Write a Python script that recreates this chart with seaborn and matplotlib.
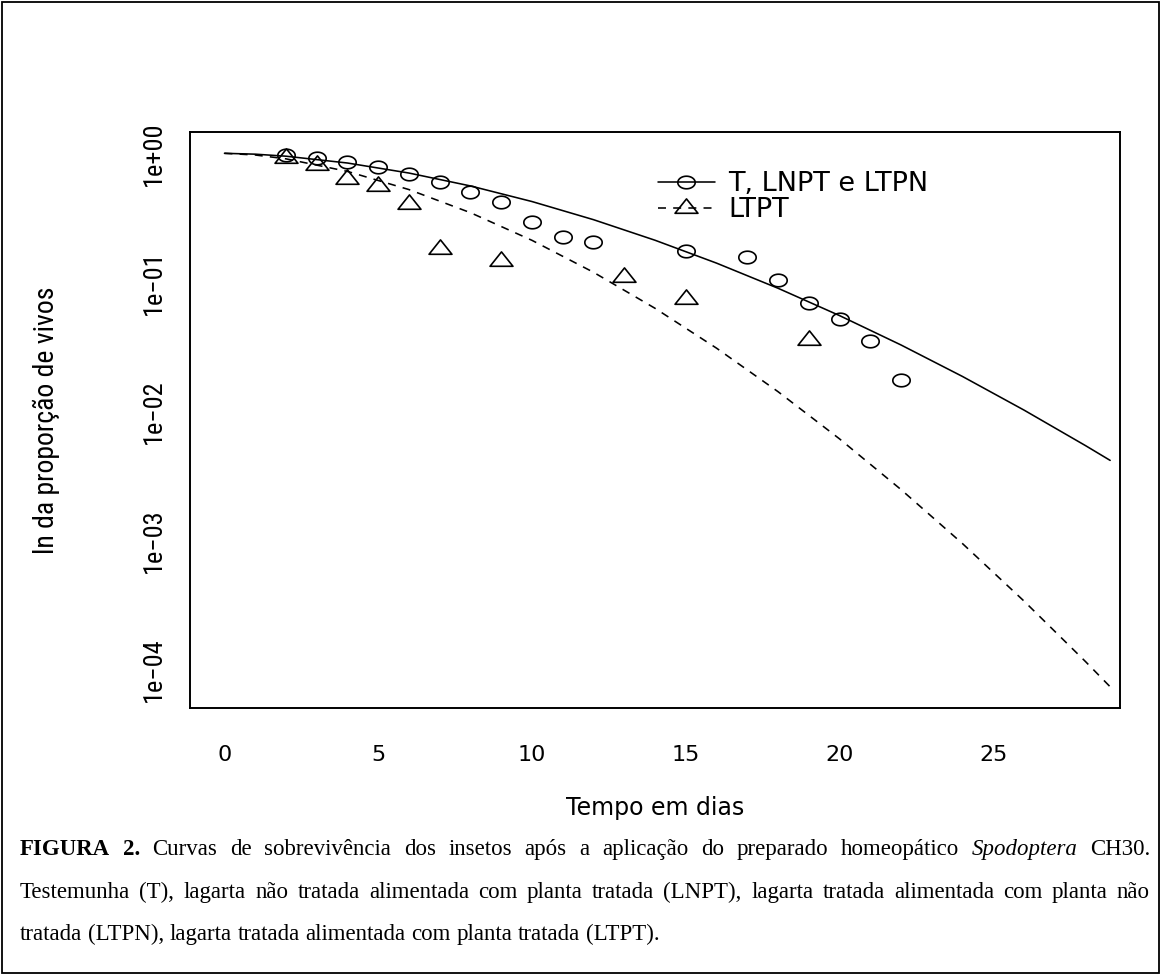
import numpy as np
import pandas as pd
import seaborn as sns
import matplotlib
matplotlib.use("Agg")
import matplotlib.pyplot as plt
import matplotlib.font_manager as fm
from matplotlib.path import Path
from matplotlib.lines import Line2D
from matplotlib.patches import Rectangle
from matplotlib.ticker import NullLocator

# pontos observados (proporcao de vivos)
dias_t = [2, 3, 4, 5, 6, 7, 8, 9, 10, 11, 12, 15, 17, 18, 19, 20, 21, 22]
prop_t = [0.965, 0.925, 0.857, 0.778, 0.695, 0.603, 0.501, 0.417, 0.294, 0.225,
          0.207, 0.174, 0.157, 0.104, 0.069, 0.052, 0.035, 0.0176]
dias_ltpt = [2, 3, 4, 5, 6, 7, 9, 13, 15, 19]
prop_ltpt = [0.915, 0.813, 0.629, 0.559, 0.403, 0.182, 0.147, 0.110, 0.074, 0.036]

# curvas ajustadas
dias_curva = [0, 1, 2, 4, 6, 8, 10, 12, 14, 16, 18, 20, 22, 24, 26, 28, 28.8]
curva_t = [1.0, 0.9848, 0.9499, 0.8411, 0.7034, 0.5589, 0.4232, 0.3063, 0.2123, 0.1412,
           0.0902, 0.0554, 0.0328, 0.0187, 0.01027, 0.00545, 0.00419]
curva_ltpt = [1.0, 0.9705, 0.9063, 0.7242, 0.5238, 0.3469, 0.2119, 0.1199, 0.0631, 0.0310,
              0.01427, 0.00615, 0.00249, 0.000950, 0.000341, 0.0001159, 0.0000740]

y_ticks = [1e-4, 1e-3, 1e-2, 1e-1, 1e0]
y_labels = ["1e\u221204", "1e\u221203", "1e\u221202", "1e\u221201", "1e+00"]
x_ticks = [0, 5, 10, 15, 20, 25]

legenda = ["T, LNPT e LTPN", "LTPT"]
caption = [
    [("FIGURA", "b"), ("2.", "b"), ("Curvas", ""), ("de", ""), ("sobrevivência", ""),
     ("dos", ""), ("insetos", ""), ("após", ""), ("a", ""), ("aplicação", ""), ("do", ""),
     ("preparado", ""), ("homeopático", ""), ("Spodoptera", "i"), ("CH30.", "")],
    [(w, "") for w in "Testemunha (T), lagarta não tratada alimentada com planta tratada "
     "(LNPT), lagarta tratada alimentada com planta não".split()],
    [(w, "") for w in "tratada (LTPN), lagarta tratada alimentada com planta tratada (LTPT).".split()],
]

W, H = 1163, 976
STRETCH = 1.38  # o grafico original foi esticado na horizontal


def fonte_estreita():
    # procura uma familia condensada instalada para os textos na vertical
    nomes = {f.name for f in fm.fontManager.ttflist}
    for nome in ["Liberation Sans Narrow", "Roboto Condensed", "DejaVu Sans Condensed",
                 "Open Sans Condensed", "Noto Sans Condensed", "Arial Narrow"]:
        if nome in nomes:
            return {"family": nome}
    for f in fm.fontManager.ttflist:
        if f.stretch in ("condensed", "semi-condensed") and "mono" not in f.name.lower():
            return {"family": f.name, "fontstretch": f.stretch}
    for f in fm.fontManager.ttflist:
        if "narrow" in f.name.lower() or "condensed" in f.name.lower():
            return {"family": f.name}
    return {"family": "Liberation Sans"}


def set_config():
    sns.set_theme(style="white")
    plt.rcParams["font.family"] = ["DejaVu Sans"]
    plt.rcParams["axes.linewidth"] = 1.4
    plt.rcParams["axes.edgecolor"] = "black"
    for k in ["text.color", "axes.labelcolor", "xtick.color", "ytick.color"]:
        plt.rcParams[k] = "black"
    return fonte_estreita()


def marcador_elipse():
    th = np.linspace(0, 2 * np.pi, 60)
    verts = np.column_stack([STRETCH * np.cos(th), np.sin(th)])
    return Path(verts, closed=True)


def marcador_triangulo():
    r0, r1, r2 = 1.555, 1.347, 0.778
    verts = [(0, r0), (r1 * STRETCH, -r2), (-r1 * STRETCH, -r2), (0, r0)]
    return Path(verts, closed=True)


def largura(fig, texto, size, **kw):
    r = fig.canvas.get_renderer()
    t = fig.text(0, 0, texto, fontsize=size, family="Liberation Serif", **kw)
    w = t.get_window_extent(r).width
    t.remove()
    return w


def linha_caption(fig, palavras, y, x0, x1, size, justificar):
    r = fig.canvas.get_renderer()
    textos = []
    for w, st in palavras:
        t = fig.text(0, y, w, fontsize=size, family="Liberation Serif", color="black",
                     fontweight="bold" if st == "b" else "normal",
                     fontstyle="italic" if st == "i" else "normal", va="baseline")
        textos.append(t)
    larg = [t.get_window_extent(r).width for t in textos]
    if justificar:
        gap = (x1 - x0 - sum(larg)) / (len(larg) - 1)
    else:
        gap = size * 100 / 72 * 0.25
    x = x0
    for t, l in zip(textos, larg):
        t.set_x(x / W)
        x += l + gap


def main():
    narrow = set_config()
    fig = plt.figure(figsize=(W / 100, H / 100), dpi=100)
    ax = fig.add_axes([190 / W, 1 - 708 / H, 930 / W, 576 / H])

    df_curvas = pd.DataFrame({"dias": dias_curva, "T": curva_t, "LTPT": curva_ltpt})
    sns.lineplot(data=df_curvas, x="dias", y="T", color="black", lw=1.15, estimator=None, ax=ax)
    sns.lineplot(data=df_curvas, x="dias", y="LTPT", color="black", lw=1.15, estimator=None,
                 linestyle=(0, (5, 4.5)), ax=ax)

    elipse = marcador_elipse()
    tri = marcador_triangulo()
    sns.lineplot(x=dias_t, y=prop_t, marker=elipse, markersize=12.5, linestyle="none",
                 markerfacecolor="none", markeredgecolor="black", markeredgewidth=1.2,
                 estimator=None, ax=ax)
    sns.lineplot(x=dias_ltpt, y=prop_ltpt, marker=tri, markersize=16.5, linestyle="none",
                 markerfacecolor="none", markeredgecolor="black", markeredgewidth=1.2,
                 estimator=None, ax=ax)

    ax.set_yscale("log")
    ax.set_xlim(-1.12, 29.12)
    ax.set_ylim(10 ** -4.295, 10 ** 0.165)
    ax.set_xticks(x_ticks)
    ax.set_xticklabels([str(v) for v in x_ticks], fontsize=16)
    ax.set_yticks(y_ticks)
    ax.yaxis.set_minor_locator(NullLocator())
    ax.set_yticklabels(y_labels, rotation=90, va="center", fontsize=19, **narrow)
    ax.tick_params(axis="x", direction="out", length=11.5, width=1.1, pad=15, colors="black")
    ax.tick_params(axis="y", direction="out", length=14.4, width=1.1, pad=3, colors="black")
    ax.set_xlabel("Tempo em dias", fontsize=17, color="black")
    ax.xaxis.set_label_coords(0.5, (708 - 796) / 576)
    ax.set_ylabel("ln da proporção de vivos", fontsize=20, color="black", **narrow)
    ax.yaxis.set_label_coords((60 - 190) / 930, 0.5)
    ax.grid(False)

    handles = [
        Line2D([], [], color="black", lw=1.15, marker=elipse, markersize=12.5,
               markerfacecolor="none", markeredgecolor="black", markeredgewidth=1.2),
        Line2D([], [], color="black", lw=1.15, linestyle=(0, (5, 4.5)), marker=tri, markersize=16.5,
               markerfacecolor="none", markeredgecolor="black", markeredgewidth=1.2),
    ]
    leg = ax.legend(handles, legenda, loc="upper left",
                    bbox_to_anchor=((658 - 190) / 930, (708 - 171) / 576),
                    frameon=False, fontsize=19.5, handlelength=2.1, handletextpad=0.5,
                    labelspacing=0.0, borderpad=0, borderaxespad=0)
    for t in leg.get_texts():
        t.set_color("black")

    # moldura externa
    fig.patches.append(Rectangle((2 / W, 3 / H), 1157 / W, 971 / H, transform=fig.transFigure,
                                 fill=False, edgecolor="black", lw=1.3))

    # legenda da figura (texto do artigo)
    s3 = 10 * 612 / largura(fig, " ".join(w for w, _ in caption[2]), 10)
    s1 = 10 * 1070 / largura(fig, " ".join(w for w, _ in caption[0]), 10)
    size = (s1 + s3) / 2
    for i, (linha, yb) in enumerate(zip(caption, [855, 898, 940])):
        linha_caption(fig, linha, 1 - yb / H, 20, 1150, size, justificar=(i < 2))

    fig.savefig("out.png", dpi=100)


if __name__ == "__main__":
    main()
